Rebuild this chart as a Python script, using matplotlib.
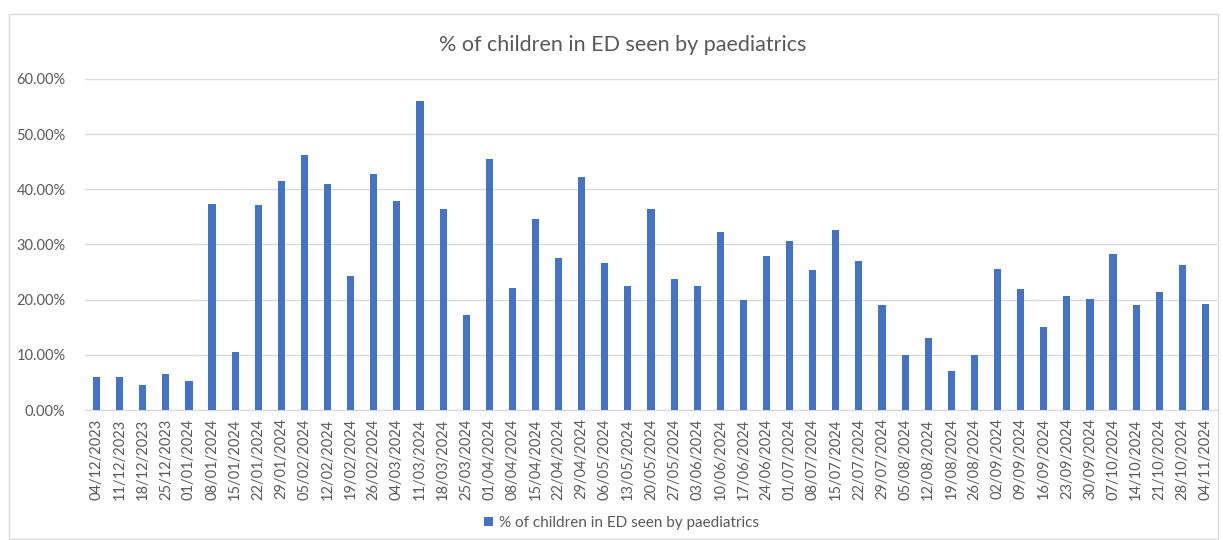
import matplotlib.pyplot as plt
from matplotlib.patches import Rectangle
from matplotlib.ticker import FuncFormatter
import numpy as np

weeks = ['04/12/2023', '11/12/2023', '18/12/2023', '25/12/2023', '01/01/2024', '08/01/2024',
         '15/01/2024', '22/01/2024', '29/01/2024', '05/02/2024', '12/02/2024', '19/02/2024',
         '26/02/2024', '04/03/2024', '11/03/2024', '18/03/2024', '25/03/2024', '01/04/2024',
         '08/04/2024', '15/04/2024', '22/04/2024', '29/04/2024', '06/05/2024', '13/05/2024',
         '20/05/2024', '27/05/2024', '03/06/2024', '10/06/2024', '17/06/2024', '24/06/2024',
         '01/07/2024', '08/07/2024', '15/07/2024', '22/07/2024', '29/07/2024', '05/08/2024',
         '12/08/2024', '19/08/2024', '26/08/2024', '02/09/2024', '09/09/2024', '16/09/2024',
         '23/09/2024', '30/09/2024', '07/10/2024', '14/10/2024', '21/10/2024', '28/10/2024',
         '04/11/2024']

# share of children in ED seen by paediatrics (fraction)
pct_seen = [0.060, 0.060, 0.046, 0.065, 0.052, 0.373, 0.106, 0.372, 0.415, 0.463,
            0.409, 0.242, 0.428, 0.379, 0.560, 0.364, 0.173, 0.455, 0.222, 0.347,
            0.276, 0.422, 0.267, 0.225, 0.364, 0.237, 0.225, 0.322, 0.199, 0.279,
            0.307, 0.253, 0.327, 0.270, 0.190, 0.099, 0.131, 0.070, 0.099, 0.256,
            0.219, 0.150, 0.207, 0.202, 0.283, 0.190, 0.213, 0.262, 0.193]

series_name = '% of children in ED seen by paediatrics'
y_ticks = [0.0, 0.1, 0.2, 0.3, 0.4, 0.5, 0.6]

plt.rcParams['font.family'] = ['Lato', 'DejaVu Sans']
text_col = '#595959'
grid_col = '#D9D9D9'
bar_col = '#4472C4'

W, H = 1223, 540
fig = plt.figure(figsize=(W / 100, H / 100), dpi=100)
ax = fig.add_axes([85 / W, 1 - 410 / H, (1217 - 85) / W, (410 - 79) / H])

x = np.arange(len(weeks))
ax.bar(x, pct_seen, width=0.31, color=bar_col, label=series_name, zorder=3)

ax.set_xlim(-0.5, len(weeks) - 0.5)
ax.set_ylim(0, 0.6)
ax.set_yticks(y_ticks)
ax.yaxis.set_major_formatter(FuncFormatter(lambda v, p: '{:.2f}%'.format(v * 100)))
ax.set_xticks(x)
ax.set_xticklabels(weeks, rotation=90)
ax.tick_params(axis='both', length=0, labelsize=10.5, colors=text_col)
ax.tick_params(axis='x', pad=6)
ax.tick_params(axis='y', pad=14)
ax.grid(axis='y', color=grid_col, linewidth=1, zorder=0)
for s in ['top', 'right', 'left']:
    ax.spines[s].set_visible(False)
ax.spines['bottom'].set_color(grid_col)

fig.text(0.509, 1 - 45 / H, series_name, ha='center', va='center', fontsize=15.5, color=text_col)

fig.legend(loc='center', bbox_to_anchor=(0.508, 1 - 523 / H), frameon=False, fontsize=11,
           handlelength=0.6, handleheight=0.6, handletextpad=0.4, labelcolor=text_col)

# chart area border
fig.patches.append(Rectangle((9 / W, 1 / H), (1218 - 9) / W, (539 - 14) / H, transform=fig.transFigure,
                             fill=False, edgecolor=grid_col, linewidth=1))

fig.savefig('out.png', dpi=100)
